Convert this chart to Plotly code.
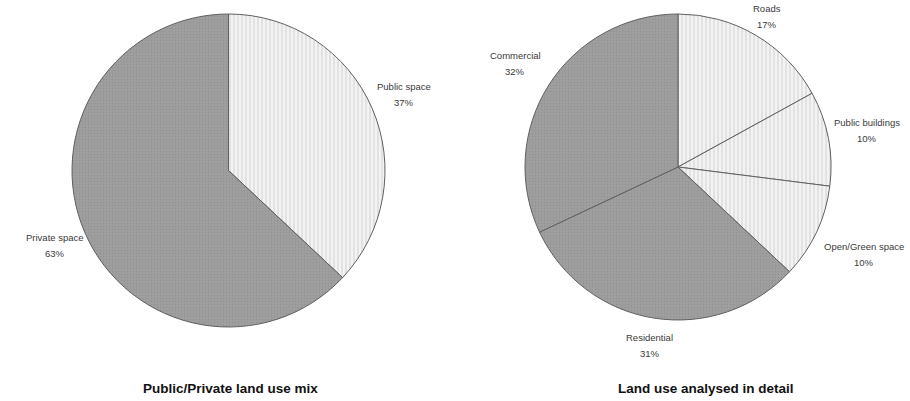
import math
import plotly.graph_objects as go

# Land-use shares (percent)
mix_labels = ["Public space", "Private space"]
mix_values = [37, 63]

detail_labels = ["Roads", "Public buildings", "Open/Green space", "Residential", "Commercial"]
detail_values = [17, 10, 10, 31, 32]

chart_titles = ["Public/Private land use mix", "Land use analysed in detail"]

# Layout settings
W, H = 910, 401
LIGHT_BG, LIGHT_FG = "#f3f3f3", "#d2d2d2"
DARK_BG, DARK_FG = "#a0a0a0", "#949494"

# pie boxes in pixels: (left, top, size)
left_box = (72, 14, 313)
right_box = (525, 14, 306)

# distance of each label from the pie centre, as a multiple of the radius
mix_label_dist = [1.22, 1.21]
detail_label_dist = [1.14, 1.26, 1.34, 1.18, 1.26]

mix_kinds = ["light", "dark"]
detail_kinds = ["light", "light", "light", "dark", "dark"]


def domain(box):
    x0, y0, s = box
    return dict(x=[x0 / W, (x0 + s) / W], y=[1 - (y0 + s) / H, 1 - y0 / H])


def pattern(kinds):
    return dict(
        shape=["|" if k == "light" else "." for k in kinds],
        bgcolor=[LIGHT_BG if k == "light" else DARK_BG for k in kinds],
        fgcolor=[LIGHT_FG if k == "light" else DARK_FG for k in kinds],
        size=[4 if k == "light" else 3 for k in kinds],
        solidity=[0.25 if k == "light" else 0.3 for k in kinds],
        fillmode="replace",
    )


def pie(labels, values, kinds, box):
    return go.Pie(
        labels=labels,
        values=values,
        sort=False,
        direction="clockwise",
        rotation=0,
        textinfo="none",
        hoverinfo="label+percent",
        showlegend=False,
        domain=domain(box),
        marker=dict(
            colors=[LIGHT_BG if k == "light" else DARK_BG for k in kinds],
            pattern=pattern(kinds),
            line=dict(color="#606060", width=1),
        ),
    )


def label_annotations(labels, values, dists, box):
    x0, y0, s = box
    cx, cy, r = x0 + s / 2, y0 + s / 2, s / 2
    total = sum(values)
    out = []
    cum = 0
    for lab, val, d in zip(labels, values, dists):
        mid = (cum + val / 2) / total * 2 * math.pi
        cum += val
        px = cx + d * r * math.sin(mid)
        py = cy - d * r * math.cos(mid)
        pct = f"{round(val / total * 100)}%"
        for text, dy in ((lab, -8), (pct, 8)):
            out.append(dict(
                x=px / W, y=1 - (py + dy) / H, xref="paper", yref="paper",
                text=text, showarrow=False, xanchor="center", yanchor="middle",
                font=dict(family="Liberation Sans, Arial, sans-serif", size=9.5, color="#3a3a3a"),
            ))
    return out


fig = go.Figure()
fig.add_trace(pie(mix_labels, mix_values, mix_kinds, left_box))
fig.add_trace(pie(detail_labels, detail_values, detail_kinds, right_box))

annotations = []
annotations += label_annotations(mix_labels, mix_values, mix_label_dist, left_box)
annotations += label_annotations(detail_labels, detail_values, detail_label_dist, right_box)

title_x = [230, 706]
for t, x in zip(chart_titles, title_x):
    annotations.append(dict(
        x=x / W, y=1 - 388 / H, xref="paper", yref="paper", text=f"<b>{t}</b>",
        showarrow=False, xanchor="center", yanchor="middle",
        font=dict(family="Liberation Sans, Arial, sans-serif", size=13.5, color="#111111"),
    ))

fig.update_layout(
    width=W, height=H,
    margin=dict(l=0, r=0, t=0, b=0),
    paper_bgcolor="white",
    plot_bgcolor="white",
    annotations=annotations,
)

fig.write_html("out.html")
